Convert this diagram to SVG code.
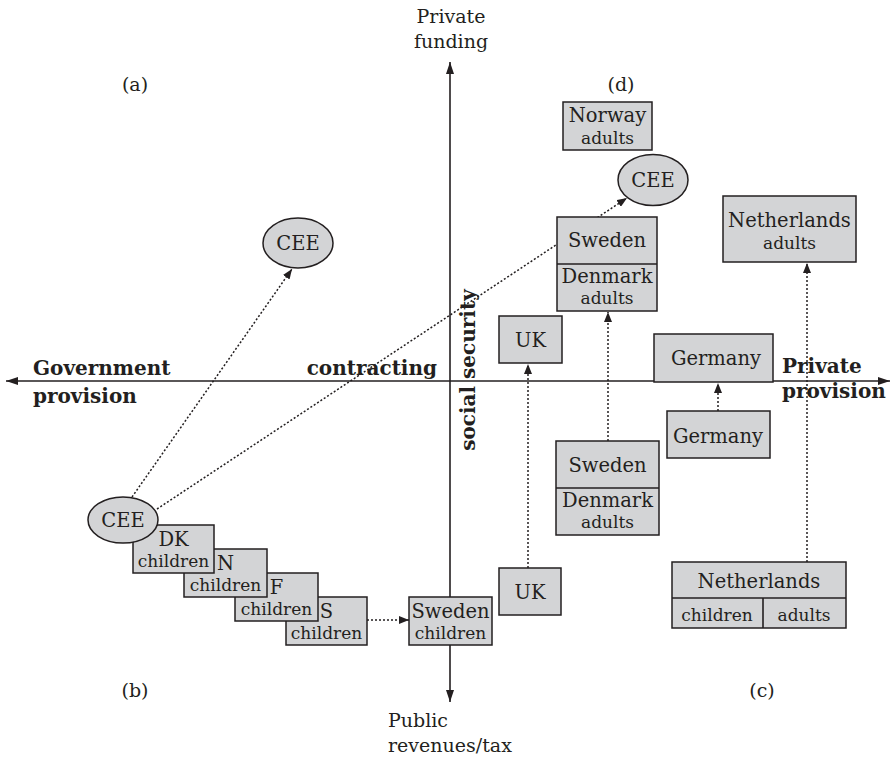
<svg xmlns="http://www.w3.org/2000/svg" width="894" height="760" viewBox="0 0 894 760">
<style>
text{font-family:"DejaVu Serif","Liberation Serif",serif;fill:#231f20;}
.t{font-size:19.5px;text-anchor:middle;}
.s{font-size:17px;text-anchor:middle;}
.a{font-size:19px;}
.b{font-size:20px;font-weight:bold;}
.box{fill:#d3d4d6;stroke:#231f20;stroke-width:1.5;}
.ax{stroke:#231f20;stroke-width:1.6;fill:none;}
.dot{stroke:#231f20;stroke-width:1.5;stroke-dasharray:2 2;fill:none;marker-end:url(#ah);}
</style>
<defs>
<marker id="ah" viewBox="0 0 10 8" refX="10" refY="4" markerWidth="10" markerHeight="8" orient="auto" markerUnits="userSpaceOnUse"><path d="M0,0 L10,4 L0,8 z" fill="#231f20"/></marker>
<marker id="axh" viewBox="0 0 12 8" refX="12" refY="4" markerWidth="12" markerHeight="8" orient="auto" markerUnits="userSpaceOnUse"><path d="M0,0 L12,4 L0,8 z" fill="#231f20"/></marker>
</defs>
<rect width="894" height="760" fill="#fff"/>
<g id="axes">
<line class="ax" x1="450" y1="381" x2="6" y2="381" marker-end="url(#axh)"/>
<line class="ax" x1="450" y1="381" x2="890" y2="381" marker-end="url(#axh)"/>
<line class="ax" x1="450" y1="381" x2="450" y2="62" marker-end="url(#axh)"/>
<line class="ax" x1="450" y1="381" x2="450" y2="702" marker-end="url(#axh)"/>
</g>
<g id="connectors">
<line class="dot" x1="132" y1="497" x2="292" y2="269"/>
<line class="dot" x1="157" y1="509" x2="627" y2="198"/>
<line class="dot" x1="367" y1="620" x2="409" y2="620"/>
<line class="dot" x1="528" y1="568" x2="528" y2="364"/>
<line class="dot" x1="608" y1="441" x2="608" y2="312"/>
<line class="dot" x1="718" y1="411" x2="718" y2="383"/>
<line class="dot" x1="807" y1="562" x2="807" y2="263"/>
</g>
<g id="labels">
<text class="a" x="451" y="23" text-anchor="middle">Private</text>
<text class="a" x="451" y="48" text-anchor="middle">funding</text>
<text class="a" x="388" y="727">Public</text>
<text class="a" x="388" y="752">revenues/tax</text>
<text class="a" x="135" y="91" text-anchor="middle">(a)</text>
<text class="a" x="621" y="91" text-anchor="middle">(d)</text>
<text class="a" x="135" y="697" text-anchor="middle">(b)</text>
<text class="a" x="762" y="697" text-anchor="middle">(c)</text>
<text class="b" x="33" y="375">Government</text>
<text class="b" x="33" y="403">provision</text>
<text class="b" x="437" y="375" text-anchor="end">contracting</text>
<text class="b" x="782" y="373">Private</text>
<text class="b" x="782" y="398">provision</text>
<text class="b" transform="translate(475,370) rotate(-90)" text-anchor="middle">social security</text>
</g>
<g id="norway-adults"><rect class="box" x="563" y="102" width="89" height="48"/><text class="t" x="607.5" y="122">Norway</text><text class="s" x="607.5" y="144">adults</text></g>
<g id="cee-d"><ellipse class="box" cx="653" cy="180" rx="35" ry="25.5"/><text class="t" x="653" y="187">CEE</text></g>
<g id="sweden-denmark-d"><rect class="box" x="557" y="217" width="100" height="94"/><line class="ax" x1="557" y1="264" x2="657" y2="264"/><text class="t" x="607" y="247">Sweden</text><text class="t" x="607" y="283">Denmark</text><text class="s" x="607" y="304">adults</text></g>
<g id="netherlands-d"><rect class="box" x="723" y="196" width="133" height="66"/><text class="t" x="789.5" y="227">Netherlands</text><text class="s" x="789.5" y="249">adults</text></g>
<g id="cee-a"><ellipse class="box" cx="298" cy="243" rx="35" ry="25"/><text class="t" x="298" y="250">CEE</text></g>
<g id="uk-d"><rect class="box" x="499" y="316" width="63" height="47"/><text class="t" x="530.5" y="347">UK</text></g>
<g id="germany-d"><rect class="box" x="654" y="334" width="119" height="48"/><text class="t" x="716" y="365">Germany</text></g>
<g id="germany-c"><rect class="box" x="667" y="411" width="103" height="47"/><text class="t" x="718" y="443">Germany</text></g>
<g id="sweden-denmark-c"><rect class="box" x="556" y="441" width="103" height="94"/><line class="ax" x1="556" y1="488" x2="659" y2="488"/><text class="t" x="607.5" y="472">Sweden</text><text class="t" x="607.5" y="507">Denmark</text><text class="s" x="607.5" y="528">adults</text></g>
<g id="uk-c"><rect class="box" x="499" y="568" width="62" height="47"/><text class="t" x="530" y="599">UK</text></g>
<g id="netherlands-c"><rect class="box" x="672" y="562" width="174" height="66"/><line class="ax" x1="672" y1="598" x2="846" y2="598"/><line class="ax" x1="763" y1="598" x2="763" y2="628"/><text class="t" x="759" y="588">Netherlands</text><text class="s" x="717" y="621">children</text><text class="s" x="804" y="621">adults</text></g>
<g id="sweden-children"><rect class="box" x="409" y="597" width="83" height="48"/><text class="t" x="450.5" y="618">Sweden</text><text class="s" x="450.5" y="639">children</text></g>
<g id="s-children"><rect class="box" x="286" y="597" width="81" height="48"/><text class="t" x="326.5" y="618">S</text><text class="s" x="326.5" y="639">children</text></g>
<g id="f-children"><rect class="box" x="235" y="573" width="83" height="48"/><text class="t" x="276.5" y="594">F</text><text class="s" x="276.5" y="615">children</text></g>
<g id="n-children"><rect class="box" x="184" y="549" width="83" height="48"/><text class="t" x="225.5" y="570">N</text><text class="s" x="225.5" y="591">children</text></g>
<g id="dk-children"><rect class="box" x="133" y="525" width="81" height="48"/><text class="t" x="173.5" y="546">DK</text><text class="s" x="173.5" y="567">children</text></g>
<g id="cee-b"><ellipse class="box" cx="123" cy="520" rx="35" ry="23"/><text class="t" x="123" y="527">CEE</text></g>
</svg>
